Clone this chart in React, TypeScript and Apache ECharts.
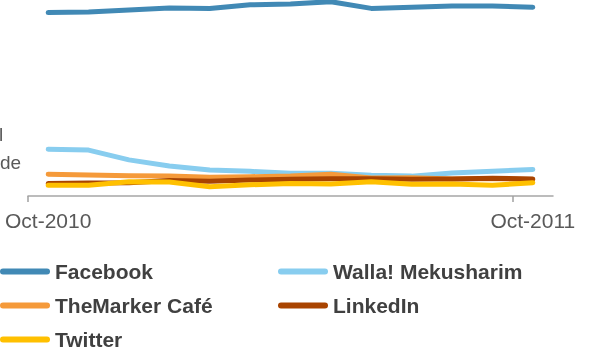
import React, { useEffect, useRef } from "react";
import * as echarts from "echarts";

const categories = [
  "Oct-2010", "Nov-2010", "Dec-2010", "Jan-2011", "Feb-2011", "Mar-2011", "Apr-2011",
  "May-2011", "Jun-2011", "Jul-2011", "Aug-2011", "Sep-2011", "Oct-2011",
];
const facebook = [65.5, 65.7, 66.4, 67.1, 67.0, 68.3, 68.6, 69.4, 67.0, 67.4, 67.9, 67.9, 67.4];
const walla = [16.7, 16.4, 12.9, 10.7, 9.3, 8.8, 8.1, 8.1, 7.4, 7.1, 8.2, 8.8, 9.5];
const themarker = [7.75, 7.5, 7.25, 7.1, 6.7, 6.9, 7.1, 7.75, 6.4, 6.5, 6.1, 6.25, 5.9];
const linkedin = [4.5, 4.6, 4.75, 5.5, 5.25, 5.7, 6.0, 6.2, 6.2, 6.0, 6.1, 6.3, 6.1];
const twitter = [3.8, 3.8, 5.1, 5.0, 3.3, 4.0, 4.5, 4.3, 5.1, 4.2, 4.3, 3.8, 4.75];
const shownLabels = ["Oct-2010", "Oct-2011"];
// month boundaries (start of each month plus the end of the last one), used for the tick marks
const boundaries = [...categories, "end"];

const FONT = "'Liberation Sans', Arial, sans-serif";
const ICON = "path://M3,0H47A3,3 0 0 1 47,6H3A3,3 0 0 1 3,0Z";

export default function App() {
  const ref = useRef<HTMLDivElement>(null);
  useEffect(() => {
    if (!ref.current) return;
    const chart = echarts.init(ref.current, null, { renderer: "svg" });
    const mk = (name: string, data: number[], color: string) => ({
      name,
      type: "line",
      data,
      symbol: "none",
      clip: false,
      color,
      lineStyle: { width: 5, color, cap: "round", join: "round" },
    });
    const legendBase = {
      orient: "vertical",
      padding: 0,
      height: 120,
      itemWidth: 50,
      itemHeight: 6,
      itemGap: 13,
      icon: ICON,
      textStyle: { fontFamily: FONT, fontSize: 21, fontWeight: "bold", color: "#404040" },
    };
    chart.setOption({
      animation: false,
      grid: { left: 28, right: 36, top: 0, height: 196 },
      xAxis: [
        {
          type: "category",
          data: categories,
          boundaryGap: true,
          axisLine: { lineStyle: { color: "#a6a6a6", width: 1.5 } },
          axisTick: { show: false },
          axisLabel: {
            interval: (_i: number, v: string) => shownLabels.includes(v),
            fontFamily: FONT,
            fontSize: 21,
            color: "#595959",
            margin: 14,
          },
        },
        {
          type: "category",
          data: boundaries,
          boundaryGap: false,
          position: "bottom",
          axisLine: { show: false },
          axisLabel: { show: false },
          axisTick: {
            show: true,
            length: 6,
            lineStyle: { color: "#a0a0a0", width: 1.5 },
            interval: (_i: number, v: string) => shownLabels.includes(v),
          },
        },
      ],
      yAxis: {
        type: "value",
        min: 0,
        max: 70,
        show: false,
      },
      legend: [
        { ...legendBase, left: 0, top: 261, data: ["Facebook", "TheMarker Café", "Twitter"] },
        { ...legendBase, left: 278, top: 261, data: ["Walla! Mekusharim", "LinkedIn"] },
      ],
      graphic: [
        {
          type: "text",
          left: -1,
          top: 125,
          style: { text: "l", font: `19px ${FONT}`, fill: "#595959" },
        },
        {
          type: "text",
          left: 0,
          top: 153,
          style: { text: "de", font: `19px ${FONT}`, fill: "#595959" },
        },
      ],
      series: [
        mk("Facebook", facebook, "#4189b5"),
        mk("Walla! Mekusharim", walla, "#88cdef"),
        mk("TheMarker Café", themarker, "#f59a3a"),
        mk("LinkedIn", linkedin, "#a94400"),
        mk("Twitter", twitter, "#ffc000"),
      ],
    });
    return () => chart.dispose();
  }, []);
  return <div ref={ref} style={{ position: "fixed", left: 0, top: 0, width: 589, height: 353 }} />;
}
